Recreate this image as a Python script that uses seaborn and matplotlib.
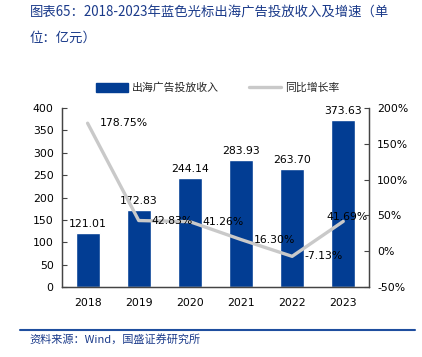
import numpy as np
import matplotlib
matplotlib.use("Agg")
import matplotlib.pyplot as plt
import seaborn as sns
from matplotlib.ticker import FixedLocator, FuncFormatter
from matplotlib.lines import Line2D
from matplotlib.patches import Patch

years = ["2018", "2019", "2020", "2021", "2022", "2023"]
revenue = [121.01, 172.83, 244.14, 283.93, 263.70, 373.63]
growth = [178.75, 42.83, 41.26, 16.30, -7.13, 41.69]
bar_name = "出海广告投放收入"
line_name = "同比增长率"
title1 = "图表65：2018-2023年蓝色光标出海广告投放收入及增速（单"
title2 = "位：亿元）"
source = "资料来源：Wind，国盛证券研究所"

sns.set_theme(style="white")
plt.rcParams["font.family"] = ["DejaVu Sans", "Noto Sans CJK SC"]
cjk = ["Noto Sans CJK SC", "DejaVu Sans"]

BLUE = "#023d93"
GRAY = "#c9c9c9"
TXT_BLUE = "#1a3a8a"

fig = plt.figure(figsize=(4.22, 3.57), dpi=100)
ax = fig.add_axes([0.147, 0.196, 0.727, 0.5015])

sns.barplot(x=years, y=revenue, ax=ax, color=BLUE, width=0.47, saturation=1)
ax.set_ylim(0, 400)
ax.set_yticks(np.arange(0, 401, 50))
ax.set_xlim(-0.5, len(years) - 0.5)
for i, v in enumerate(revenue):
    ax.annotate(f"{v:.2f}", (i, v), xytext=(0, 3), textcoords="offset points",
                ha="center", va="bottom", fontsize=7.8, color="black")

ax2 = ax.twinx()
sns.lineplot(x=np.arange(len(years)), y=growth, ax=ax2, color=GRAY, linewidth=2.4)
ax2.set_ylim(-50, 200)
ax2.set_yticks(np.arange(-50, 201, 50))
ax2.yaxis.set_major_formatter(FuncFormatter(lambda v, p: f"{int(v)}%"))
ax2.set_xlim(-0.5, len(years) - 0.5)
for i, v in enumerate(growth):
    if i == len(growth) - 1:
        off, ha = (-12, 3), "left"
    else:
        off, ha = (9, 0), "left"
    ax2.annotate(f"{v:.2f}%", (i, v), xytext=off, textcoords="offset points",
                 ha=ha, va="center", fontsize=7.8, color="black")

for a in (ax, ax2):
    a.set_xlabel("")
    a.set_ylabel("")
    a.spines["top"].set_visible(False)
    for s in ("left", "right", "bottom"):
        a.spines[s].set_color("#444444")
        a.spines[s].set_linewidth(0.9)
    a.grid(False)

ax.tick_params(axis="y", direction="in", length=3.5, width=0.8, color="#444444",
               labelsize=7.8, pad=6, labelcolor="black")
ax2.tick_params(axis="y", direction="in", length=3.5, width=0.8, color="#444444",
                labelsize=7.8, pad=6, labelcolor="black")
ax.tick_params(axis="x", which="major", length=0, labelsize=7.8, pad=8, labelcolor="black")
ax.xaxis.set_minor_locator(FixedLocator(np.arange(0.5, len(years) - 0.5, 1)))
ax.tick_params(axis="x", which="minor", direction="in", length=3.5, width=0.8, color="#444444")

handles = [Patch(facecolor=BLUE, edgecolor=BLUE),
           Line2D([0], [0], color=GRAY, linewidth=2.4)]
leg = fig.legend(handles, [bar_name, line_name], loc="center", bbox_to_anchor=(0.515, 0.755),
                 ncol=2, frameon=False, prop={"family": cjk, "size": 7.8},
                 handlelength=3.0, handleheight=0.9, columnspacing=2.8, handletextpad=0.3)

fig.text(0.071, 0.965, title1, family=cjk, fontsize=9.6, color=TXT_BLUE,
         ha="left", va="center", style="italic")
fig.text(0.071, 0.893, title2, family=cjk, fontsize=9.6, color=TXT_BLUE,
         ha="left", va="center", style="italic")

fig.add_artist(Line2D([0.047, 0.983], [0.076, 0.076], transform=fig.transFigure,
                      color="#1f4e9f", linewidth=1.5))
fig.text(0.071, 0.05, source, family=cjk, fontsize=8, color=TXT_BLUE,
         ha="left", va="center", style="italic")

fig.savefig("out.png", dpi=100)
